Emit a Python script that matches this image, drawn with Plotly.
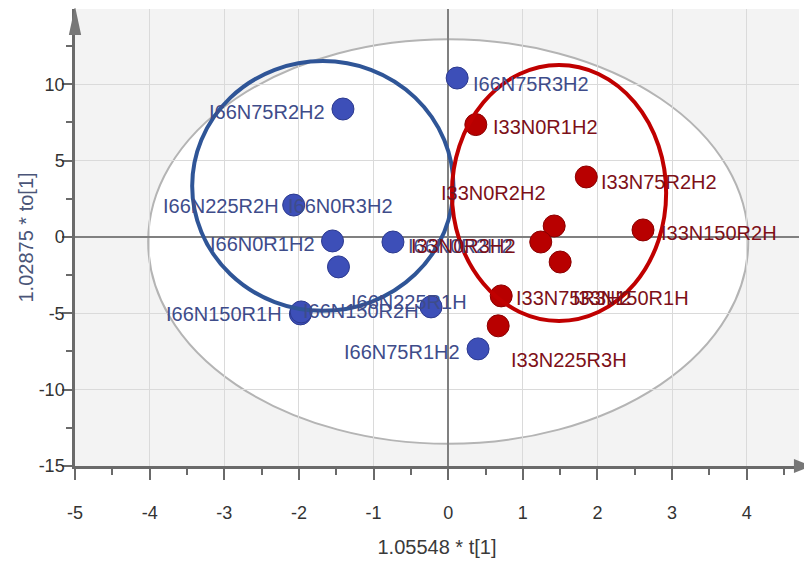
import plotly.graph_objects as go

# ---- data ----
blue_names = ["I66N75R3H2", "I66N75R2H2", "I66N225R2H", "I66N0R3H2", "I66N0R1H2",
              "I66N0R2H2", "I66N150R1H", "I66N150R2H", "I66N225R1H", "I66N75R1H2"]
blue_x = [0.12, -1.41, -2.07, -1.47, -1.55, -0.74, -1.98, -1.97, -0.23, 0.40]
blue_y = [10.41, 8.38, 2.09, -1.96, -0.26, -0.33, -5.04, -4.91, -4.58, -7.33]

red_names = ["I33N0R1H2", "I33N75R2H2", "I33N150R2H", "I33N0R2H2",
             "I33N0R3H2", "I33N150R1H", "I33N75R3H2", "I33N225R3H"]
red_x = [0.37, 1.85, 2.61, 1.42, 1.24, 1.50, 0.71, 0.67]
red_y = [7.36, 3.93, 0.46, 0.72, -0.33, -1.64, -3.86, -5.82]

x_ticks = [-5, -4, -3, -2, -1, 0, 1, 2, 3, 4]
x_tick_labels = ["-5", "-4", "-3", "-2", "-1", "0", "1", "2", "3", "4"]
y_ticks = [-15, -10, -5, 0, 5, 10]
y_tick_labels = ["-15", "-10", "-5", "0", "5", "10"]
x_title = "1.05548 * t[1]"
y_title = "1.02875 * to[1]"

# ---- label placement (anchor, pixel dx, pixel dy-down) ----
blue_lab = [("left", 14, 6), ("right", -16, 3), ("right", -13, 1), ("left", -52, -61),
            ("right", -16, 3), ("left", 13, 4), ("right", -16, 0), ("left", 0, -1),
            ("left", -82, -5), ("right", -16, 3)]
red_lab = [("left", 15, 2), ("left", 13, 5), ("left", 16, 3), ("left", -115, -33),
           ("left", -132, 4), ("left", 11, 36), ("left", 13, 2), ("left", 11, 34)]

FONT = "Liberation Sans, Arial, sans-serif"
BLUE, BLUE_EDGE, BLUE_TXT = "#3d4fb8", "#2c3a8f", "#3e4c8a"
RED, RED_EDGE, RED_TXT = "#b80000", "#8b0000", "#7d1018"

fig = go.Figure()

fig.add_trace(go.Scatter(x=blue_x, y=blue_y, mode="markers", hoverinfo="text", text=blue_names,
                         marker=dict(size=22, color=BLUE, line=dict(color=BLUE_EDGE, width=1))))
fig.add_trace(go.Scatter(x=red_x, y=red_y, mode="markers", hoverinfo="text", text=red_names,
                         marker=dict(size=22, color=RED, line=dict(color=RED_EDGE, width=1))))

annotations = []
for names, xs, ys, labs, col in [(blue_names, blue_x, blue_y, blue_lab, BLUE_TXT),
                                 (red_names, red_x, red_y, red_lab, RED_TXT)]:
    for n, x, y, (anc, dx, dy) in zip(names, xs, ys, labs):
        annotations.append(dict(x=x, y=y, text=n, showarrow=False, xanchor=anc, yanchor="middle",
                                xshift=dx, yshift=-dy, font=dict(family=FONT, size=20, color=col)))

shapes = [
    # Hotelling T2 ellipse
    dict(type="circle", xref="x", yref="y", x0=-4.02, x1=4.02, y0=-13.55, y1=12.95,
         fillcolor="white", line=dict(color="#b4b4b4", width=2), layer="below"),
    # group circles
    dict(type="circle", xref="x", yref="y", x0=-3.43, x1=0.07, y0=-4.84, y1=11.52,
         line=dict(color="#2f5597", width=4), layer="above"),
    dict(type="circle", xref="x", yref="y", x0=0.05, x1=2.92, y0=-5.5, y1=11.26,
         line=dict(color="#c00000", width=4), layer="above"),
    # axis arrows
    dict(type="path", xref="paper", yref="paper",
         path="M 0,1.006 L -0.0085,0.943 L 0.0085,0.943 Z", fillcolor="#777", line=dict(width=0)),
    dict(type="path", xref="paper", yref="paper",
         path="M 1.0166,0 L 0.993,0.0155 L 0.993,-0.0155 Z", fillcolor="#777", line=dict(width=0)),
]

fig.update_layout(
    width=812, height=567,
    margin=dict(l=67, r=21, t=1, b=109, autoexpand=False),
    paper_bgcolor="white", plot_bgcolor="#f3f3f3",
    showlegend=False,
    shapes=shapes, annotations=annotations,
    font=dict(family=FONT, color="#333"),
)
fig.update_xaxes(range=[-5, 4.70], tickvals=x_ticks, ticktext=x_tick_labels,
                 showgrid=True, gridcolor="#dadada", gridwidth=1,
                 automargin=False,
                 zeroline=True, zerolinecolor="#808080", zerolinewidth=1.5,
                 showline=True, linecolor="#6a6a6a", linewidth=2.5,
                 ticks="outside", ticklen=11, tickwidth=1.5, tickcolor="#6a6a6a",
                 minor=dict(dtick=0.5, tick0=0, ticks="outside", ticklen=6, tickcolor="#6a6a6a", showgrid=False),
                 tickfont=dict(size=18, color="#333"), ticklabelstandoff=18,
                 title=dict(text=x_title, font=dict(size=20, color="#3a3a3a"), standoff=18))
fig.update_yaxes(range=[-15, 14.93], tickvals=y_ticks, ticktext=y_tick_labels,
                 showgrid=True, gridcolor="#dadada", gridwidth=1,
                 automargin=False,
                 zeroline=True, zerolinecolor="#808080", zerolinewidth=1.5,
                 showline=True, linecolor="#6a6a6a", linewidth=2.5,
                 ticks="outside", ticklen=10, tickwidth=1.5, tickcolor="#6a6a6a",
                 minor=dict(dtick=2.5, tick0=0, ticks="outside", ticklen=6, tickcolor="#6a6a6a", showgrid=False),
                 tickfont=dict(size=18, color="#333"), ticklabelstandoff=-6,
                 title=dict(text=y_title, font=dict(size=20, color="#4a5578"), standoff=0))

fig.write_html("out.html")
